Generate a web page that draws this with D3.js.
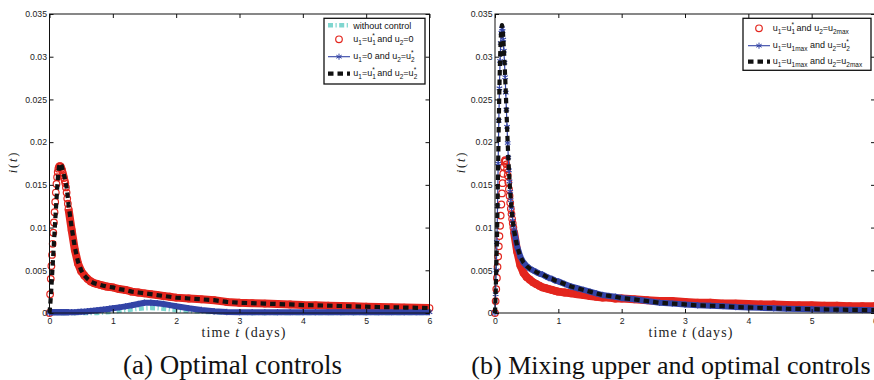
<!DOCTYPE html>
<html><head><meta charset="utf-8">
<script src="https://cdn.jsdelivr.net/npm/d3@7"></script>
<style>body{margin:0;background:#fff}svg{display:block}</style>
</head><body><svg id="c" width="874" height="380"></svg>
<script>
// ---------- data ----------
const time = [0,0.01,0.02,0.03,0.04,0.05,0.06,0.07,0.08,0.09,
 0.10,0.11,0.12,0.13,0.14,0.15,0.16,0.17,0.18,0.19,
 0.20,0.21,0.22,0.23,0.24,0.25,0.26,0.27,0.28,0.29,0.30,
 0.35,0.40,0.45,0.50,0.55,0.60,0.65,0.70,0.75,0.80,0.85,0.90,0.95,1.00,
 1.1,1.2,1.3,1.4,1.5,1.6,1.7,1.8,1.9,2.0,
 2.2,2.4,2.6,2.8,3.0,3.2,3.4,3.6,3.8,4.0,4.2,4.4,4.6,4.8,5.0,5.2,5.4,5.6,5.8,6.0];

// (a) Optimal controls
const leftNoControl = [0,0,0,0,0,0,0,0,0,0,
 0,0,0,0,0,0,0,0,0,0,
 0,0,0,0,0,0,0,0,0,0,0,
 0,0,0,0,0,0,0,0,0,0.00003,0.00006,0.0001,0.00013,0.00017,
 0.00025,0.00033,0.00042,0.0005,0.00056,0.00058,0.00056,0.0005,0.00043,0.00036,
 0.00024,0.00015,0.00009,0.00005,0.00003,0,0,0,0,0,0,0,0,0,0,0,0,0,0,0];
const leftU1Opt = [0,0.0022,0.0040,0.0055,0.0068,0.0081,0.0094,0.0106,0.0118,0.0130,
 0.0141,0.0151,0.0159,0.0165,0.0169,0.0171,0.0172,0.0172,0.0171,0.0169,
 0.0167,0.0164,0.0161,0.0158,0.0155,0.0152,0.0147,0.0141,0.0134,0.0128,0.0122,
 0.0097,0.0074,0.0058,0.0049,0.0044,0.0040,0.0037,0.0035,0.0034,0.0033,0.0032,0.0031,0.00305,0.0030,
 0.0028,0.0027,0.0025,0.0024,0.0023,0.0022,0.0021,0.0020,0.0019,0.0018,
 0.0017,0.0016,0.0015,0.0013,0.0012,0.00115,0.0011,0.00105,0.0010,0.00093,0.0009,0.00086,0.00082,0.00078,0.00074,0.0007,0.00067,0.00064,0.00061,0.00058];
const leftU2Opt = [0,0.0001,0.0001,0.0001,0.0001,0.0001,0.0001,0.0001,0.0001,0.0001,
 0.0001,0.0001,0.0001,0.0001,0.0001,0.0001,0.0001,0.0001,0.0001,0.0001,
 0.0001,0.0001,0.0001,0.0001,0.0001,0.0001,0.0001,0.0001,0.0001,0.0001,0.0001,
 0.0001,0.0001,0.00012,0.00014,0.00016,0.0002,0.00024,0.00028,0.00032,0.00036,0.0004,0.00045,0.0005,0.00055,
 0.00066,0.00078,0.0009,0.00105,0.0012,0.0012,0.00115,0.00105,0.00092,0.0008,
 0.00055,0.00035,0.0002,0.00012,0.0001,0.0001,0.0001,0.0001,0.0001,0.0001,0.0001,0.0001,0.0001,0.0001,0.0001,0.0001,0.0001,0.0001,0.0001,0.0001];
const leftBothOpt = [0,0.0008,0.0018,0.0030,0.0043,0.0056,0.0069,0.0082,0.0095,0.0108,
 0.0120,0.0132,0.0145,0.0156,0.0165,0.0171,0.0174,0.0175,0.0175,0.0173,
 0.0170,0.0167,0.0164,0.0161,0.0158,0.0155,0.0151,0.0147,0.0141,0.0134,0.0127,
 0.0100,0.0077,0.0060,0.0050,0.0044,0.0040,0.0037,0.0035,0.0034,0.0033,0.0032,0.0031,0.00305,0.0030,
 0.0028,0.0027,0.0025,0.0024,0.0023,0.0022,0.0021,0.0020,0.0019,0.0018,
 0.0017,0.0016,0.0015,0.0013,0.0012,0.00115,0.0011,0.00105,0.0010,0.00093,0.0009,0.00086,0.00082,0.00078,0.00074,0.0007,0.00067,0.00064,0.00061,0.00058];

// (b) Mixing upper and optimal controls
const rightU1OptU2Max = [0,0.0014,0.0028,0.0041,0.0054,0.0066,0.0078,0.0090,0.0102,0.0114,
 0.0127,0.0140,0.0152,0.0163,0.0171,0.0177,0.0179,0.0178,0.0174,0.0168,
 0.0161,0.0153,0.0145,0.0137,0.0129,0.0122,0.0116,0.0110,0.0105,0.0100,0.0095,
 0.0072,0.0056,0.0047,0.0042,0.0039,0.0036,0.0034,0.0032,0.0030,0.0029,0.0028,0.0027,0.0026,0.0025,
 0.0024,0.0023,0.0022,0.0021,0.0020,0.0019,0.0018,0.0018,0.0017,0.0017,
 0.0016,0.0015,0.0014,0.0014,0.0013,0.0012,0.0012,0.0011,0.0011,0.00105,0.0010,0.0010,0.00095,0.0009,0.0009,0.00085,0.00085,0.0008,0.0008,0.0008];
const rightU1MaxU2Opt = [0,0.0022,0.0050,0.0083,0.0125,0.0175,0.0225,0.0263,0.0295,0.0316,
 0.0328,0.0333,0.0330,0.0320,0.0307,0.0293,0.0276,0.0258,0.0238,0.0218,
 0.0199,0.0182,0.0167,0.0154,0.0142,0.0132,0.0123,0.0115,0.0108,0.0102,0.0097,
 0.0078,0.0066,0.0059,0.0055,0.0052,0.0050,0.0048,0.0046,0.0045,0.0043,0.0041,0.0040,0.0038,0.0037,
 0.0034,0.0031,0.0029,0.0027,0.0025,0.0023,0.0021,0.0020,0.0019,0.00175,
 0.0016,0.0014,0.0012,0.0011,0.0010,0.0009,0.00085,0.0008,0.0007,0.00065,0.0006,0.00055,0.0005,0.00048,0.00045,0.00042,0.0004,0.00037,0.00035,0.00033];
const rightBothMax = [0,0.0022,0.0050,0.0083,0.0125,0.0175,0.0225,0.0265,0.0298,0.0320,
 0.0332,0.0337,0.0334,0.0323,0.0309,0.0294,0.0277,0.0259,0.0239,0.0219,
 0.0199,0.0182,0.0167,0.0154,0.0142,0.0132,0.0123,0.0115,0.0108,0.0102,0.0097,
 0.0078,0.0066,0.0059,0.0055,0.0052,0.0050,0.0048,0.0046,0.0045,0.0043,0.0041,0.0040,0.0038,0.0037,
 0.0034,0.0031,0.0029,0.0027,0.0025,0.0023,0.0021,0.0020,0.0019,0.00175,
 0.0016,0.0014,0.0012,0.0011,0.0010,0.0009,0.00085,0.0008,0.0007,0.00065,0.0006,0.00055,0.0005,0.00048,0.00045,0.00042,0.0004,0.00037,0.00035,0.00033];

const xTicks = [0,1,2,3,4,5,6];
const xTickLabels = ["0","1","2","3","4","5","6"];
const yTicks = [0,0.005,0.01,0.015,0.02,0.025,0.03,0.035];
const yTickLabels = ["0","0.005","0.01","0.015","0.02","0.025","0.03","0.035"];
const leftLegendLabels = ["without control","u_1=u_1^* and u_2=0","u_1=0 and u_2=u_2^*","u_1=u_1^* and u_2=u_2^*"];
const rightLegendLabels = ["u_1=u_1^* and u_2=u_{2max}","u_1=u_{1max} and u_2=u_2^*","u_1=u_{1max} and u_2=u_{2max}"];
const captions = ["(a) Optimal controls","(b) Mixing upper and optimal controls"];

// ---------- styles ----------
const ST = {
  cyan:  {kind:"dash", color:"#7fd6cf", width:4.5, dash:"5,2.5,1.2,2.5"},
  red:   {kind:"circle", color:"#e3261e"},
  blue:  {kind:"star", color:"#3344a6"},
  black: {kind:"dash", color:"#111111", width:4.2, dash:"5.5,4"}
};

const svg = d3.select("#c");
const Y0 = 313, Y1 = 14;

function richText(sel, str, fs) {
  const sub = fs*0.72;
  let cur = 0, lastSubW = 0, buf = "", i = 0;
  const add = (txt, size, off, dx) => {
    const t = sel.append("tspan").text(txt).attr("font-size", size).attr("dy", (off-cur).toFixed(2));
    if (dx) t.attr("dx", dx);
    cur = off;
    return t;
  };
  const flush = () => { if (buf) { add(buf, fs, 0); buf = ""; lastSubW = 0; } };
  while (i < str.length) {
    const c = str[i];
    if (c === "_" || c === "^") {
      flush();
      let arg;
      if (str[i+1] === "{") { const j = str.indexOf("}", i); arg = str.slice(i+2, j); i = j+1; }
      else { arg = str[i+1]; i += 2; }
      if (c === "_") { const t = add(arg, sub, fs*0.32); lastSubW = t.node().getComputedTextLength(); }
      else { add(arg, sub, -fs*0.45, lastSubW ? -lastSubW : 0); lastSubW = 0; }
    } else { buf += c; i++; }
  }
  flush();
}

function drawSeries(g, x, y, vals, st, bandFrom) {
  const pts = time.map((t,i)=>[t, vals[i]]);
  const line = d3.line().x(d=>x(d[0])).y(d=>y(d[1]));
  if (st.kind === "dash") {
    g.append("path").attr("d", line(pts)).attr("fill","none").attr("stroke", st.color)
      .attr("stroke-width", st.width).attr("stroke-dasharray", st.dash).attr("stroke-linejoin","round");
  } else if (st.kind === "circle") {
    g.append("path").attr("d", line(pts.filter(d=>d[0]>=bandFrom))).attr("fill","none")
      .attr("stroke", st.color).attr("stroke-width", 8).attr("stroke-linejoin","round");
    g.append("g").selectAll("circle").data(pts).join("circle")
      .attr("cx", d=>x(d[0])).attr("cy", d=>y(d[1])).attr("r", 3.3)
      .attr("fill","none").attr("stroke", st.color).attr("stroke-width", 1.2);
  } else {
    g.append("path").attr("d", line(pts)).attr("fill","none").attr("stroke", st.color).attr("stroke-width", 1.2);
    g.append("path").attr("d", line(pts.filter(d=>d[0]>=bandFrom))).attr("fill","none")
      .attr("stroke", st.color).attr("stroke-width", 6).attr("stroke-linejoin","round");
    const sym = d3.symbol().type(d3.symbolAsterisk).size(28);
    g.append("g").selectAll("path").data(pts).join("path")
      .attr("d", sym).attr("transform", d=>`translate(${x(d[0])},${y(d[1])})`)
      .attr("fill","none").attr("stroke", st.color).attr("stroke-width", 1.1);
  }
}

function drawLegend(g, box, rows) {
  g.append("rect").attr("x", box.x0).attr("y", box.y0).attr("width", box.x1-box.x0).attr("height", box.y1-box.y0)
    .attr("fill","#fff").attr("stroke","#111").attr("stroke-width",1.3);
  rows.forEach(r => {
    const st = ST[r.style];
    const sx0 = box.sx, sx1 = box.sx + 22, mx = (sx0+sx1)/2;
    if (st.kind === "dash") {
      g.append("line").attr("x1", sx0).attr("x2", sx1).attr("y1", r.my).attr("y2", r.my)
        .attr("stroke", st.color).attr("stroke-width", st.width).attr("stroke-dasharray", st.dash);
    } else if (st.kind === "circle") {
      g.append("circle").attr("cx", mx).attr("cy", r.my).attr("r", 3.3).attr("fill","none")
        .attr("stroke", st.color).attr("stroke-width", 1.2);
    } else {
      g.append("line").attr("x1", sx0).attr("x2", sx1).attr("y1", r.my).attr("y2", r.my)
        .attr("stroke", st.color).attr("stroke-width", 1.1);
      g.append("path").attr("d", d3.symbol().type(d3.symbolAsterisk).size(26))
        .attr("transform", `translate(${mx},${r.my})`).attr("fill","none").attr("stroke", st.color);
    }
    const t = g.append("text").attr("x", box.tx).attr("y", r.by)
      .attr("font-family","'Liberation Sans', Arial, sans-serif").attr("font-size", 9).attr("fill","#111");
    richText(t, r.label, 9);
  });
}

function panel(cfg) {
  const g = svg.append("g");
  const x = d3.scaleLinear().domain([0,6]).range([cfg.x0, cfg.x0 + 380]);
  const y = d3.scaleLinear().domain([0,0.035]).range([Y0, Y1]);

  cfg.series.forEach(s => drawSeries(g, x, y, s.vals, ST[s.style], s.bandFrom));

  const font = "'Liberation Sans', Arial, sans-serif";
  const axB = g.append("g").attr("transform", `translate(0,${Y0})`)
    .call(d3.axisBottom(x).tickValues(xTicks).tickFormat((d,i)=>xTickLabels[i]).tickSizeInner(-4).tickSizeOuter(0).tickPadding(5.3));
  const axL = g.append("g").attr("transform", `translate(${cfg.x0},0)`)
    .call(d3.axisLeft(y).tickValues(yTicks).tickFormat((d,i)=>yTickLabels[i]).tickSizeInner(-4).tickSizeOuter(0).tickPadding(2.5));
  const axT = g.append("g").attr("transform", `translate(0,${Y1})`)
    .call(d3.axisTop(x).tickValues(xTicks).tickFormat("").tickSizeInner(-4).tickSizeOuter(0));
  const axR = g.append("g").attr("transform", `translate(${cfg.x0+380},0)`)
    .call(d3.axisRight(y).tickValues(yTicks).tickFormat("").tickSizeInner(-4).tickSizeOuter(0));
  [axB, axL, axT, axR].forEach(a => {
    a.select(".domain").remove();
    a.selectAll("line").attr("stroke","#111");
    a.selectAll("text").attr("font-family", font).attr("font-size", 8.7).attr("fill","#222");
  });
  g.append("rect").attr("x", cfg.x0).attr("y", Y1).attr("width", 380).attr("height", Y0-Y1)
    .attr("fill","none").attr("stroke","#111").attr("stroke-width",1);

  // y label
  const yl = g.append("text").attr("transform", `translate(${cfg.ylx},162) rotate(-90)`)
    .attr("text-anchor","middle").attr("font-family","'Liberation Serif', 'Times New Roman', serif")
    .attr("font-size", 12.5).attr("letter-spacing", 1.8).attr("fill","#222");
  yl.append("tspan").attr("font-style","italic").text("i");
  yl.append("tspan").text("(");
  yl.append("tspan").attr("font-style","italic").text("t");
  yl.append("tspan").text(")");

  // x label
  const xl = g.append("text").attr("x", cfg.xlx).attr("y", 337).attr("text-anchor","middle")
    .attr("font-family","'Liberation Serif', 'Times New Roman', serif").attr("font-size", 14)
    .attr("letter-spacing", 1.1).attr("fill","#222");
  xl.append("tspan").text("time ");
  xl.append("tspan").attr("font-style","italic").text("t");
  xl.append("tspan").text(" (days)");

  drawLegend(g, cfg.legend, cfg.legendRows);

  g.append("text").attr("x", cfg.capx).attr("y", 374).attr("text-anchor","middle")
    .attr("font-family","'Liberation Serif', 'Times New Roman', serif").attr("font-size", cfg.capfs)
    .attr("fill","#111").text(cfg.caption);
}

panel({
  x0: 49.5, ylx: 17, xlx: 244, capx: 232.5, capfs: 27, caption: captions[0],
  series: [
    {vals: leftNoControl, style: "cyan"},
    {vals: leftU1Opt, style: "red", bandFrom: 0.3},
    {vals: leftU2Opt, style: "blue", bandFrom: 0},
    {vals: leftBothOpt, style: "black"}
  ],
  legend: {x0: 324, y0: 18.3, x1: 425, y1: 84, sx: 328, tx: 353.3},
  legendRows: [
    {label: leftLegendLabels[0], style: "cyan", my: 25.3, by: 28.6},
    {label: leftLegendLabels[1], style: "red", my: 39.3, by: 41.8},
    {label: leftLegendLabels[2], style: "blue", my: 56.7, by: 59.2},
    {label: leftLegendLabels[3], style: "black", my: 73.7, by: 76.2}
  ]
});

panel({
  x0: 495, ylx: 465, xlx: 691, capx: 671, capfs: 26, caption: captions[1],
  series: [
    {vals: rightU1OptU2Max, style: "red", bandFrom: 0.3},
    {vals: rightU1MaxU2Opt, style: "blue", bandFrom: 0.3},
    {vals: rightBothMax, style: "black"}
  ],
  legend: {x0: 743, y0: 18.3, x1: 871, y1: 70.3, sx: 748, tx: 772.7},
  legendRows: [
    {label: rightLegendLabels[0], style: "red", my: 28.3, by: 30.8},
    {label: rightLegendLabels[1], style: "blue", my: 45.7, by: 48.2},
    {label: rightLegendLabels[2], style: "black", my: 61.7, by: 64.2}
  ]
});
</script>
</body></html>
